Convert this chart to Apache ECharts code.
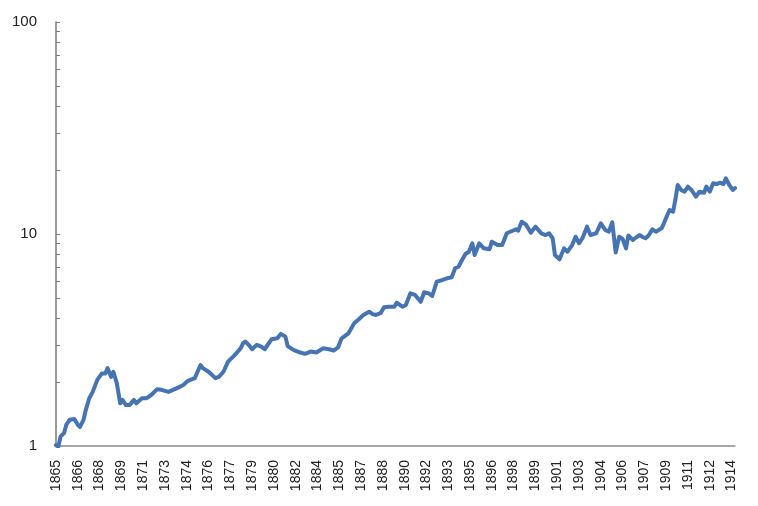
<!DOCTYPE html>
<html>
<head>
<meta charset="utf-8">
<script src="https://cdn.jsdelivr.net/npm/echarts@6/dist/echarts.min.js"></script>
<style>html,body{margin:0;padding:0;background:#fff}#c{width:758px;height:506px}</style>
</head>
<body>
<div id="c"></div>
<script>
// month index counted from Feb 1865
const months = [0,2,4,7,9,12,16,19,21,24,26,29,32,36,40,43,45,48,50,53,56,58,61,64,68,70,75,79,83,88,92,98,102,107,111,115,121,126,128,133,139,142,146,150,156,161,163,165,168,171,175,179,182,188,193,196,200,202,207,213,217,222,227,233,238,242,246,249,255,260,264,268,273,276,279,283,286,290,295,297,302,305,309,313,318,321,325,328,332,337,341,345,348,351,354,357,360,363,365,369,373,378,380,385,389,393,396,401,403,406,410,414,418,423,427,430,433,435,439,443,446,450,453,456,459,463,466,471,475,479,482,485,488,491,494,497,499,503,506,509,511,514,517,520,523,528,530,533,535,538,540,542,545,548,551,554,558,561,565,567,570,573,576,579,582,584,587,590,592];
const values = [1.01,0.99,1.11,1.15,1.26,1.33,1.34,1.26,1.23,1.33,1.48,1.68,1.80,2.05,2.20,2.20,2.33,2.12,2.24,1.98,1.59,1.65,1.56,1.56,1.65,1.59,1.68,1.68,1.74,1.85,1.84,1.80,1.84,1.89,1.94,2.03,2.09,2.41,2.33,2.24,2.09,2.12,2.24,2.50,2.69,2.89,3.05,3.11,3.00,2.86,3.00,2.94,2.86,3.19,3.22,3.38,3.28,2.96,2.84,2.76,2.72,2.79,2.76,2.89,2.86,2.82,2.92,3.22,3.40,3.79,3.96,4.15,4.30,4.19,4.15,4.23,4.51,4.54,4.54,4.74,4.54,4.62,5.25,5.16,4.79,5.31,5.25,5.10,5.96,6.07,6.18,6.25,6.89,7.01,7.54,8.05,8.25,9.04,7.96,9.04,8.56,8.47,9.20,8.87,8.87,10.08,10.25,10.52,10.37,11.43,11.03,10.14,10.83,10.08,9.89,10.08,9.55,7.96,7.60,8.56,8.25,8.87,9.71,9.04,9.55,10.83,9.89,10.08,11.23,10.44,10.25,11.36,8.18,9.71,9.47,8.56,9.84,9.37,9.65,9.89,9.71,9.55,9.89,10.52,10.25,10.64,11.23,12.29,12.98,12.74,14.47,17.03,16.13,15.83,16.72,16.13,15.0,15.83,15.66,16.72,15.83,17.34,17.21,17.46,17.21,18.31,17.03,16.13,16.48];
const yearLabels = ['1865','1866','1868','1869','1871','1873','1874','1876','1877','1879','1880','1882','1884','1885','1887','1888','1890','1892','1893','1895','1896','1898','1899','1901','1903','1904','1906','1907','1909','1911','1912','1914'];
const yTicks = [1,2,3,4,5,6,7,8,9,10,20,30,40,50,60,70,80,90,100];
const yLabels = [1,10,100];

const LABEL_STEP = 19;
const chart = echarts.init(document.getElementById('c'), null, {renderer:'canvas'});
chart.setOption({
  backgroundColor:'#ffffff',
  animation:false,
  grid:{left:56,right:23,top:22,bottom:60,containLabel:false},
  xAxis:{
    type:'value', min:0, max:592, interval:LABEL_STEP,
    splitLine:{show:false},
    axisTick:{show:false},
    axisLine:{lineStyle:{color:'#8c8c8c',width:1.5}},
    axisLabel:{
      rotate:90, margin:14, color:'#222', fontSize:14, fontFamily:'Liberation Sans',
      showMaxLabel:false,
      formatter:function(v){
        if (v % LABEL_STEP !== 0) return '';
        const k = v / LABEL_STEP;
        return yearLabels[k] || '';
      }
    }
  },
  yAxis:{
    type:'log', logBase:10, min:1, max:100,
    splitLine:{show:false},
    axisLine:{show:true,lineStyle:{color:'#7a7a7a',width:1.5}},
    axisTick:{show:true,inside:true,length:4,lineStyle:{color:'#7a7a7a'},customValues:yTicks},
    axisLabel:{color:'#222',fontSize:15,fontFamily:'Liberation Sans',margin:19,padding:[6,0,0,0],customValues:yLabels}
  },
  series:[{
    type:'line',
    data:months.map((m,i)=>[m,values[i]]),
    showSymbol:false,
    lineStyle:{color:'#4674b3',width:4,join:'round',cap:'round'},
    itemStyle:{color:'#4674b3'}
  }]
});
</script>
</body>
</html>
